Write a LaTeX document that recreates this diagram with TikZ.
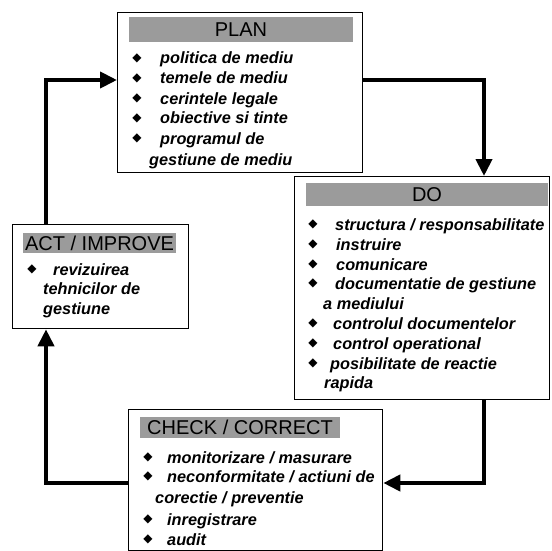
\documentclass[tikz,border=0pt]{standalone}
\usepackage{fontspec}
\setmainfont{Liberation Sans}
\newfontfamily\symfont{DejaVu Sans}
\usetikzlibrary{arrows.meta}
\definecolor{hdrgray}{RGB}{155,155,155}
\begin{document}
\begin{tikzpicture}[x=1pt,y=-1pt,
  box/.style={draw=black, line width=1.3pt, fill=white, inner sep=0pt, anchor=north west},
  hdr/.style={fill=hdrgray, inner sep=0pt, text depth=0pt, font=\fontsize{20}{24}\selectfont},
  itm/.style={anchor=base west, inner sep=0pt, font=\fontsize{16.3}{20}\selectfont\bfseries\itshape},
  bul/.style={inner sep=0pt, font=\fontsize{12}{12}\selectfont\symfont},
  arr/.style={line width=4pt, -{Triangle[length=17pt,width=16pt]}}]
\useasboundingbox (0,0) rectangle (552,551);
% boxes
\node[box, minimum width=245pt, minimum height=160pt] (plan) at (117,12) {};
\node[box, minimum width=255pt, minimum height=223pt] (do) at (294,176) {};
\node[box, minimum width=176pt, minimum height=104pt] (act) at (12,224) {};
\node[box, minimum width=254pt, minimum height=141pt] (check) at (128,409) {};
% headers
\node[hdr, minimum width=224pt, minimum height=25pt] (planh) at (241,29.5) {PLAN};
\node[hdr, minimum width=242pt, minimum height=23pt] (doh) at (427,194.5) {DO};
\node[hdr, minimum width=153pt, minimum height=20pt] (acth) at (99.5,243) {ACT / IMPROVE};
\node[hdr, minimum width=200pt, minimum height=21pt] (checkh) at (240,427.5) {CHECK / CORRECT};
% PLAN items
\node[bul] (pb1) at (137,58) {◆};
\node[bul] (pb2) at (137,78) {◆};
\node[bul] (pb3) at (137,98) {◆};
\node[bul] (pb4) at (137,118) {◆};
\node[bul] (pb5) at (137,138) {◆};
\node[itm] (p1) at (160,64) {politica de mediu};
\node[itm] (p2) at (160,84) {temele de mediu};
\node[itm] (p3) at (160,104) {cerintele legale};
\node[itm] (p4) at (160,124) {obiective si tinte};
\node[itm] (p5) at (160,144) {programul de};
\node[itm] (p6) at (149,165) {gestiune de mediu};
% DO items
\node[bul] (db1) at (313,224) {◆};
\node[bul] (db2) at (313,244) {◆};
\node[bul] (db3) at (313,264) {◆};
\node[bul] (db4) at (313,283) {◆};
\node[bul] (db5) at (313,323) {◆};
\node[bul] (db6) at (313,343) {◆};
\node[bul] (db7) at (313,363) {◆};
\node[itm] (d1) at (335,230) {structura / responsabilitate};
\node[itm] (d2) at (336,250) {instruire};
\node[itm] (d3) at (336,270) {comunicare};
\node[itm] (d4) at (335,289) {documentatie de gestiune};
\node[itm] (d5) at (323,309) {a mediului};
\node[itm] (d6) at (333,329) {controlul documentelor};
\node[itm] (d7) at (333,349) {control operational};
\node[itm] (d8) at (330,369) {posibilitate de reactie};
\node[itm] (d9) at (324,388) {rapida};
% ACT items
\node[bul] (ab1) at (32,269) {◆};
\node[itm] (a1) at (53,275) {revizuirea};
\node[itm] (a2) at (43,294) {tehnicilor de};
\node[itm] (a3) at (43,314) {gestiune};
% CHECK items
\node[bul] (cb1) at (148,457) {◆};
\node[bul] (cb2) at (148,476) {◆};
\node[bul] (cb3) at (148,519) {◆};
\node[bul] (cb4) at (148,539) {◆};
\node[itm] (c1) at (167,463) {monitorizare / masurare};
\node[itm] (c2) at (167,482) {neconformitate / actiuni de};
\node[itm] (c3) at (155,503) {corectie / preventie};
\node[itm] (c4) at (167,525) {inregistrare};
\node[itm] (c5) at (167,545) {audit};
% bend points
\coordinate (k1) at (484,80);
\coordinate (k2) at (484,483);
\coordinate (k3) at (46,483);
\coordinate (k4) at (46,80);
% arrows
\draw[arr] (plan.east |- k1) -- (k1) -- (do.north -| k1);
\draw[arr] (do.south -| k2) -- (k2) -- (check.east |- k2);
\draw[arr] (check.west |- k3) -- (k3) -- (act.south -| k3);
\draw[arr] (act.north -| k4) -- (k4) -- (plan.west |- k4);
\end{tikzpicture}
\end{document}
